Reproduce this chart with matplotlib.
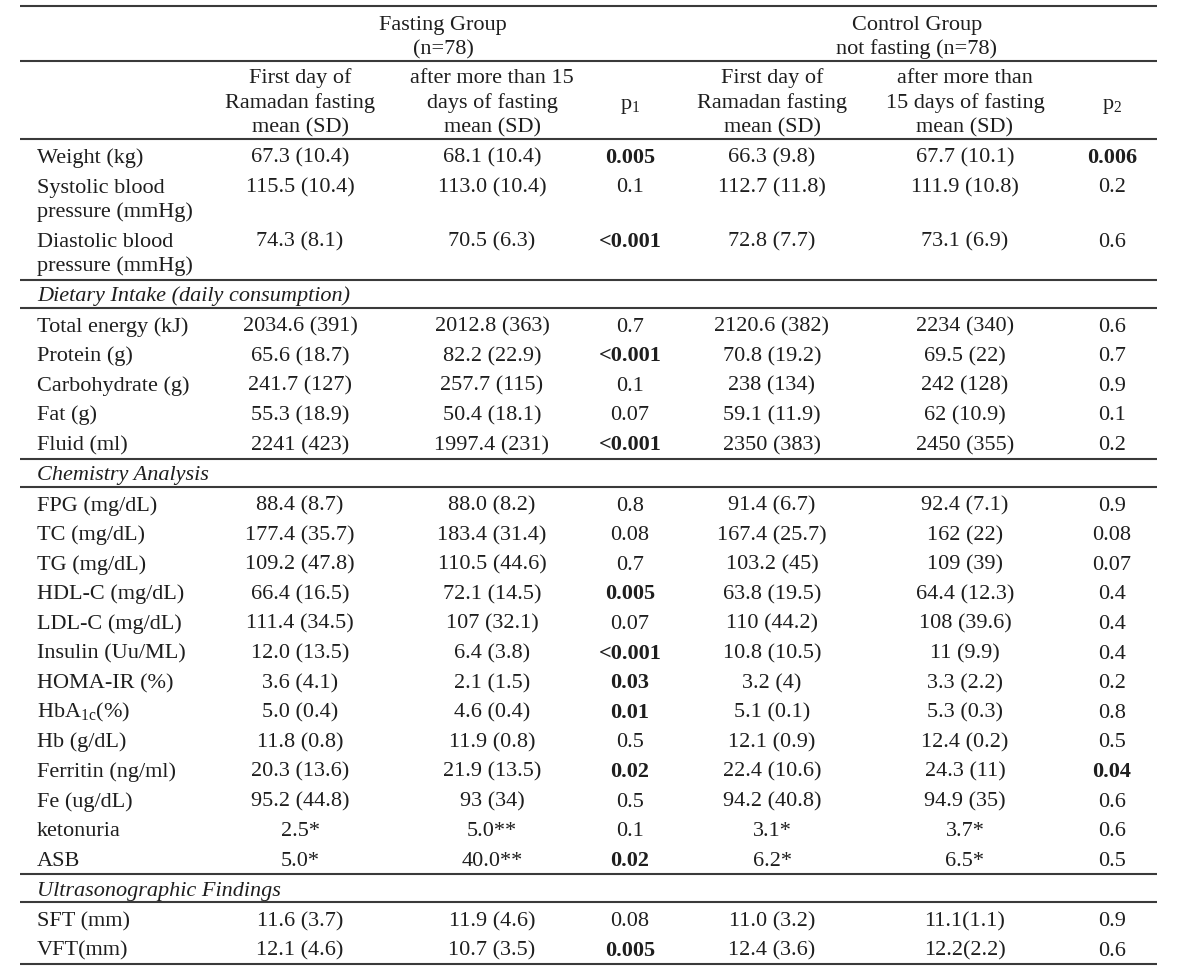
import matplotlib
matplotlib.use('Agg')
import matplotlib.pyplot as plt

plt.rcParams['font.family'] = ['Liberation Serif', 'DejaVu Serif']
plt.rcParams['mathtext.fontset'] = 'custom'
plt.rcParams['mathtext.rm'] = 'Liberation Serif'
plt.rcParams['mathtext.it'] = 'Liberation Serif:italic'

# data
groups = ['Fasting Group\n(n=78)', 'Control Group\nnot fasting (n=78)']
col_heads = ['First day of\nRamadan fasting\nmean (SD)',
             'after more than 15\ndays of fasting\nmean (SD)',
             r'p$_\mathregular{1}$',
             'First day of\nRamadan fasting\nmean (SD)',
             'after more than\n15 days of fasting\nmean (SD)',
             r'p$_\mathregular{2}$']

sections = [None, 'Dietary Intake (daily consumption)', 'Chemistry Analysis',
            'Ultrasonographic Findings']

labels = [
    ['Weight (kg)', 'Systolic blood\npressure (mmHg)', 'Diastolic blood\npressure (mmHg)'],
    ['Total energy (kJ)', 'Protein (g)', 'Carbohydrate (g)', 'Fat (g)', 'Fluid (ml)'],
    ['FPG (mg/dL)', 'TC (mg/dL)', 'TG (mg/dL)', 'HDL-C (mg/dL)', 'LDL-C (mg/dL)',
     'Insulin (Uu/ML)', 'HOMA-IR (%)', r'HbA$_\mathregular{1c}$(%)', 'Hb (g/dL)',
     'Ferritin (ng/ml)', 'Fe (ug/dL)', 'ketonuria', 'ASB'],
    ['SFT (mm)', 'VFT(mm)'],
]
fast_first = [
    ['67.3 (10.4)', '115.5 (10.4)', '74.3 (8.1)'],
    ['2034.6 (391)', '65.6 (18.7)', '241.7 (127)', '55.3 (18.9)', '2241 (423)'],
    ['88.4 (8.7)', '177.4 (35.7)', '109.2 (47.8)', '66.4 (16.5)', '111.4 (34.5)',
     '12.0 (13.5)', '3.6 (4.1)', '5.0 (0.4)', '11.8 (0.8)', '20.3 (13.6)',
     '95.2 (44.8)', '2.5*', '5.0*'],
    ['11.6 (3.7)', '12.1 (4.6)'],
]
fast_after = [
    ['68.1 (10.4)', '113.0 (10.4)', '70.5 (6.3)'],
    ['2012.8 (363)', '82.2 (22.9)', '257.7 (115)', '50.4 (18.1)', '1997.4 (231)'],
    ['88.0 (8.2)', '183.4 (31.4)', '110.5 (44.6)', '72.1 (14.5)', '107 (32.1)',
     '6.4 (3.8)', '2.1 (1.5)', '4.6 (0.4)', '11.9 (0.8)', '21.9 (13.5)',
     '93 (34)', '5.0**', '40.0**'],
    ['11.9 (4.6)', '10.7 (3.5)'],
]
p1 = [
    ['0.005', '0.1', '<0.001'],
    ['0.7', '<0.001', '0.1', '0.07', '<0.001'],
    ['0.8', '0.08', '0.7', '0.005', '0.07', '<0.001', '0.03', '0.01', '0.5',
     '0.02', '0.5', '0.1', '0.02'],
    ['0.08', '0.005'],
]
ctrl_first = [
    ['66.3 (9.8)', '112.7 (11.8)', '72.8 (7.7)'],
    ['2120.6 (382)', '70.8 (19.2)', '238 (134)', '59.1 (11.9)', '2350 (383)'],
    ['91.4 (6.7)', '167.4 (25.7)', '103.2 (45)', '63.8 (19.5)', '110 (44.2)',
     '10.8 (10.5)', '3.2 (4)', '5.1 (0.1)', '12.1 (0.9)', '22.4 (10.6)',
     '94.2 (40.8)', '3.1*', '6.2*'],
    ['11.0 (3.2)', '12.4 (3.6)'],
]
ctrl_after = [
    ['67.7 (10.1)', '111.9 (10.8)', '73.1 (6.9)'],
    ['2234 (340)', '69.5 (22)', '242 (128)', '62 (10.9)', '2450 (355)'],
    ['92.4 (7.1)', '162 (22)', '109 (39)', '64.4 (12.3)', '108 (39.6)',
     '11 (9.9)', '3.3 (2.2)', '5.3 (0.3)', '12.4 (0.2)', '24.3 (11)',
     '94.9 (35)', '3.7*', '6.5*'],
    ['11.1(1.1)', '12.2(2.2)'],
]
p2 = [
    ['0.006', '0.2', '0.6'],
    ['0.6', '0.7', '0.9', '0.1', '0.2'],
    ['0.9', '0.08', '0.07', '0.4', '0.4', '0.4', '0.2', '0.8', '0.5', '0.04',
     '0.6', '0.6', '0.5'],
    ['0.9', '0.6'],
]

# layout (pixels)
W, H = 1200, 975
x_left, x_right = 20, 1157
x_label = 37
col_x = [300, 492, 630, 772, 965, 1112]
group_x = [443, 917]
fs = 16
base = 7.4          # baseline below the visual middle of a cap-height line
ink = '#1e1e1e'
line_col = '#3a3a3a'
pitch = 29.6
lead = 24.5

fig = plt.figure(figsize=(W / 100, H / 100), dpi=100)
ax = fig.add_axes([0, 0, 1, 1])
ax.set_xlim(0, W)
ax.set_ylim(H, 0)
ax.axis('off')


def hline(y):
    ax.plot([x_left, x_right], [y, y], color=line_col, lw=1.5, solid_capstyle='butt')


def put(x, y, s, ha='center', leading=lead, **kw):
    for k, part in enumerate(s.split('\n')):
        ax.text(x, y + k * leading + base, part, ha=ha, va='baseline', fontsize=fs,
                color=ink, **kw)


def is_sig(p):
    return p.startswith('<') or float(p) < 0.05


# header
hline(6)
for gx, g in zip(group_x, groups):
    put(gx, 23, g, leading=24)
hline(61)
for cx, h in zip(col_x, col_heads):
    if '\n' in h:
        put(cx, 76, h, leading=24.5)
    else:
        put(cx, 102, h)
hline(139)

y = 139
for si, sec in enumerate(sections):
    if sec is not None:
        y += 16
        hline(y)
        ax.text(x_label, y + 14 + base, sec, ha='left', va='baseline', fontsize=fs,
                color=ink, style='italic')
        y += 28
        hline(y)
    y = y + 16.5 - pitch
    for r in range(len(labels[si])):
        y += pitch
        put(x_label, y, labels[si][r], ha='left')
        cells = [fast_first[si][r], fast_after[si][r], p1[si][r],
                 ctrl_first[si][r], ctrl_after[si][r], p2[si][r]]
        for ci, c in enumerate(cells):
            bold = ci in (2, 5) and is_sig(c)
            put(col_x[ci], y, c, fontweight='bold' if bold else 'normal')
        y += labels[si][r].count('\n') * lead
y += 16
hline(y)

fig.savefig('out.png', dpi=100, facecolor='white')
